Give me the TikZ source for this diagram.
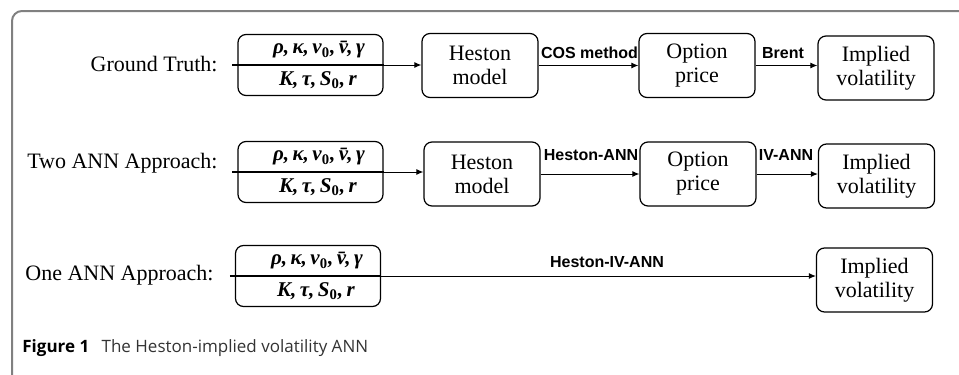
\documentclass[tikz,border=0pt]{standalone}
\usepackage{fontspec}
\setmainfont{Liberation Serif}
\newfontfamily\arrowfont{Liberation Sans}
\newfontfamily\capfont{Open Sans}
\usetikzlibrary{arrows.meta}

\definecolor{framegray}{HTML}{808080}
\definecolor{capgray}{HTML}{333333}

\newcommand{\hestonpars}{ρ,\,κ,\,v\textsubscript{\upshape 0},\,\=v,\,γ}
\newcommand{\contractpars}{K,\,τ,\,S\textsubscript{\upshape 0},\,r}

\tikzset{
  box/.style={draw, rounded corners=4pt, line width=0.6pt, align=center, inner sep=0pt,
    minimum width=58pt, minimum height=32pt, font=\rmfamily\fontsize{11}{12}\selectfont},
  parbox/.style={draw, rounded corners=4pt, line width=0.6pt, inner sep=0pt,
    minimum width=72.5pt, minimum height=30.5pt},
  partext/.style={font=\rmfamily\fontsize{10.5}{12}\selectfont\bfseries\itshape},
  arr/.style={-{Latex[length=3.5pt,width=3pt]}, line width=0.5pt},
  arrlabel/.style={font=\arrowfont\fontsize{8}{9}\selectfont\bfseries},
  rowlabel/.style={anchor=east, inner sep=0pt, font=\rmfamily\fontsize{11}{12}\selectfont},
}

\begin{document}
\begin{tikzpicture}[x=0.5pt,y=-0.5pt]
    \useasboundingbox (0,0) rectangle (959,375);
    % frame
    \draw[framegray, line width=1pt, rounded corners=5pt] (12,376) -- (12,11) -- (960,11);

    % ground truth
    \node[rowlabel] (gt) at (218,64) {Ground Truth:};
    \node[parbox] (p1) at (310.5,65) {};
    \draw[line width=0.6pt] ([xshift=-2.5pt]p1.west) -- (p1.east);
    \node[partext] (p1a) at (319,50) {\hestonpars};
    \node[partext] (p1b) at (318,80) {\contractpars};
    \node[box] (h1) at (480,65.5) {Heston\\model};
    \node[box] (o1) at (697,65.5) {Option\\price};
    \node[box] (i1) at (876,68) {Implied\\volatility};
    \draw[arr] (p1.east) -- (p1.east -| h1.west);
    \draw[arr] (h1.east) -- (h1.east -| o1.west);
    \draw[arr] (o1.east) -- (o1.east -| i1.west);
    \node[arrlabel] (l1a) at (589.5,53) {COS method};
    \node[arrlabel] (l1b) at (783,53) {Brent};

    % two ANN
    \node[rowlabel] (two) at (218,163) {Two ANN Approach:};
    \node[parbox] (p2) at (310.5,172) {};
    \draw[line width=0.6pt] ([xshift=-2.5pt]p2.west) -- (p2.east);
    \node[partext] (p2a) at (319,157) {\hestonpars};
    \node[partext] (p2b) at (318,187) {\contractpars};
    \node[box] (h2) at (482,174) {Heston\\model};
    \node[box] (o2) at (698,174) {Option\\price};
    \node[box] (i2) at (876.5,176) {Implied\\volatility};
    \draw[arr] (p2.east) -- (p2.east -| h2.west);
    \draw[arr] (h2.east) -- (h2.east -| o2.west);
    \draw[arr] (o2.east) -- (o2.east -| i2.west);
    \node[arrlabel] (l2a) at (591,155) {Heston-ANN};
    \node[arrlabel] (l2b) at (786,155) {IV-ANN};

    % one ANN
    \node[rowlabel] (one) at (214,275) {One ANN Approach:};
    \node[parbox] (p3) at (308,276) {};
    \draw[line width=0.6pt] ([xshift=-2.5pt]p3.west) -- (p3.east);
    \node[partext] (p3a) at (317,261) {\hestonpars};
    \node[partext] (p3b) at (316,291) {\contractpars};
    \node[box] (i3) at (874.5,280) {Implied\\volatility};
    \draw[arr] (p3.east) -- (p3.east -| i3.west);
    \node[arrlabel] (l3) at (607,262) {Heston-IV-ANN};

    % caption
    \node[anchor=west, inner sep=0pt, font=\capfont\fontsize{8.5}{10}\selectfont, text=capgray]
      (cap) at (22,348) {\textbf{\color{black}Figure 1}\hspace{4pt} The Heston-implied volatility ANN};
\end{tikzpicture}
\end{document}
